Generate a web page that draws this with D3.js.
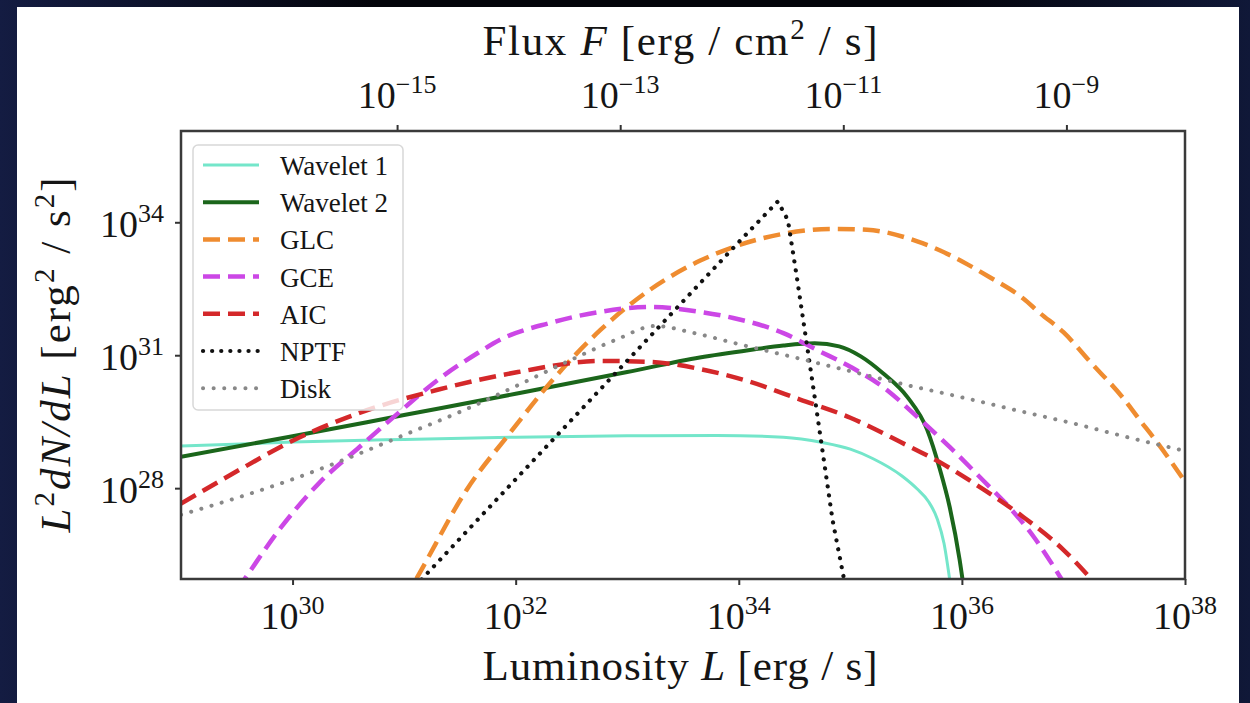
<!DOCTYPE html>
<html>
<head>
<meta charset="utf-8">
<script src="https://cdnjs.cloudflare.com/ajax/libs/d3/7.8.5/d3.min.js"></script>
<style>
  body { margin: 0; background: #000; }
  svg { display: block; }
  text { font-family: "Liberation Serif", "DejaVu Serif", serif; fill: #151515; }
</style>
</head>
<body>
<div id="chart"></div>
<script>
// curves: [log10 L, log10 L^2 dN/dL]
var wavelet1 = [[29.00,28.95],[30.00,29.04],[31.00,29.10],[32.00,29.15],[33.00,29.18],[33.80,29.19],[34.40,29.15],
    [34.75,29.03],[35.00,28.88],[35.20,28.67],[35.46,28.28],[35.60,27.98],[35.70,27.70],[35.78,27.30],[35.84,26.75],
    [35.89,25.95],[35.92,25.40]];
var wavelet2 = [[29.00,28.71],[30.00,29.17],[31.00,29.65],[32.00,30.13],[33.00,30.62],[33.65,30.95],[34.10,31.12],
    [34.40,31.22],[34.68,31.27],[34.90,31.20],[35.09,30.98],[35.29,30.60],[35.51,30.06],[35.69,29.31],[35.80,28.45],
    [35.89,27.58],[35.98,26.38],[36.03,25.50]];
var glc = [[31.00,25.47],[31.14,26.09],[31.56,27.96],[31.95,29.25],[32.31,30.38],[32.76,31.57],[33.20,32.47],
    [33.65,33.13],[33.95,33.44],[34.40,33.74],[34.84,33.85],[35.15,33.83],[35.60,33.57],[35.80,33.37],[36.05,33.05],
    [36.25,32.76],[36.55,32.28],[36.70,31.95],[36.91,31.52],[37.15,30.85],[37.44,30.05],[37.60,29.52],[37.73,29.10],
    [38.00,28.15]];
var gce = [[29.50,25.70],[29.57,25.95],[29.88,27.06],[30.24,28.12],[30.60,28.93],[30.95,29.70],[31.30,30.44],
    [31.66,31.05],[31.86,31.35],[32.31,31.73],[32.76,31.98],[33.20,32.09],[33.65,31.98],[33.95,31.84],[34.40,31.50],
    [34.70,31.12],[35.00,30.74],[35.29,30.29],[35.60,29.61],[35.89,28.93],[36.20,28.15],[36.45,27.50],[36.65,26.88],
    [36.80,26.32],[36.90,25.92],[37.00,25.50]];
var aic = [[29.00,27.65],[29.50,28.38],[30.00,29.07],[30.60,29.70],[31.30,30.22],[32.02,30.62],[32.76,30.87],
    [33.20,30.85],[33.65,30.69],[34.10,30.40],[34.55,30.00],[35.00,29.59],[35.45,29.04],[35.84,28.53],[36.20,27.96],
    [36.55,27.35],[36.91,26.61],[37.16,25.95],[37.25,25.70]];
var nptf = [[31.10,25.79],[32.37,29.19],[34.01,33.58],[34.35,34.47],[34.44,34.05],[34.52,32.77],[34.68,30.06],
    [34.84,27.29],[34.97,25.60]];
var disk = [[29.00,27.40],[29.50,27.78],[30.00,28.20],[30.50,28.68],[31.00,29.20],[31.50,29.72],[32.00,30.30],
    [32.50,30.90],[32.90,31.35],[33.25,31.66],[33.60,31.50],[34.00,31.25],[34.50,30.95],[35.00,30.64],[35.50,30.33],
    [36.00,30.05],[36.50,29.75],[37.00,29.46],[37.50,29.14],[38.00,28.84]];

var seriesNames = ["Wavelet 1", "Wavelet 2", "GLC", "GCE", "AIC", "NPTF", "Disk"];
var seriesData = [wavelet1, wavelet2, glc, gce, aic, nptf, disk];

var xTickExps = [30, 32, 34, 36, 38];
var yTickExps = [28, 31, 34];
var fluxTickExps = [-15, -13, -11, -9];
var xDomainExps = [29, 38];
var yDomainExps = [25.95, 36.06];
var fluxOffsetExp = 45.937; // log10(4 pi d^2) for d = 8.5 kpc

var styles = {
    "Wavelet 1": {color: "#74e6ca", width: 3, dash: null, cap: "butt"},
    "Wavelet 2": {color: "#1b661b", width: 4, dash: null, cap: "butt"},
    "GLC": {color: "#ef8c30", width: 4.5, dash: "17,8", cap: "butt"},
    "GCE": {color: "#cc47e6", width: 4.5, dash: "17,8", cap: "butt"},
    "AIC": {color: "#d4282a", width: 4.5, dash: "17,8", cap: "butt"},
    "NPTF": {color: "#111111", width: 4.2, dash: "0.1,9", cap: "round"},
    "Disk": {color: "#888888", width: 4, dash: "0.1,10.5", cap: "round"}
};

var margin = {top: 131, right: 65, bottom: 124, left: 181},
    width = 1250 - margin.left - margin.right,
    height = 703 - margin.top - margin.bottom;

var p10 = function(e) { return Math.pow(10, e); };

var x = d3.scaleLog().domain(xDomainExps.map(p10)).range([0, width]);
var y = d3.scaleLog().domain(yDomainExps.map(p10)).range([height, 0]);
var xf = d3.scaleLog().domain(xDomainExps.map(function(e) { return p10(e - fluxOffsetExp); })).range([0, width]);

var root = d3.select("#chart").append("svg")
    .attr("width", 1250)
    .attr("height", 703);

// dark slide background
var defs = root.append("defs");
var bg = defs.append("linearGradient").attr("id", "bg");
bg.append("stop").attr("offset", "0%").attr("stop-color", "#141c42");
bg.append("stop").attr("offset", "30%").attr("stop-color", "#03040a");
bg.append("stop").attr("offset", "75%").attr("stop-color", "#03040a");
bg.append("stop").attr("offset", "100%").attr("stop-color", "#101838");
defs.append("clipPath").attr("id", "plot-clip")
    .append("rect").attr("width", width).attr("height", height);

root.append("rect").attr("width", 1250).attr("height", 703).attr("fill", "url(#bg)");
root.append("rect").attr("x", 17).attr("y", 7).attr("width", 1222).attr("height", 700).attr("fill", "#fff");

var svg = root.append("g")
    .attr("transform", "translate(" + margin.left + "," + margin.top + ")");

// the curves
var line = d3.line()
    .x(function(d) { return x(p10(d[0])); })
    .y(function(d) { return y(p10(d[1])); });

var curves = svg.append("g").attr("clip-path", "url(#plot-clip)");
seriesNames.forEach(function(name, i) {
    var s = styles[name];
    line.curve(name == "NPTF" ? d3.curveLinear : d3.curveMonotoneX);
    curves.append("path")
        .attr("d", line(seriesData[i]))
        .attr("fill", "none")
        .attr("stroke", s.color)
        .attr("stroke-width", s.width)
        .attr("stroke-linecap", s.cap)
        .attr("stroke-dasharray", s.dash);
});

// superscript tick label: 10^e
function powLabel(sel, e) {
    sel.append("tspan").text("10");
    sel.append("tspan")
        .attr("dy", -15)
        .attr("font-size", 26)
        .text(e < 0 ? "\u2212" + (-e) : e);
}

// Add the X Axis (luminosity)
var gx = svg.append("g")
    .attr("transform", "translate(0," + height + ")")
    .call(d3.axisBottom(x).tickValues(xTickExps.map(p10)).tickSize(6).tickFormat(""));

xTickExps.forEach(function(e) {
    svg.append("text")
        .attr("x", x(p10(e)))
        .attr("y", height + 50)
        .attr("text-anchor", "middle")
        .attr("font-size", 38)
        .call(powLabel, e);
});

// Add the top axis (flux)
var gt = svg.append("g")
    .call(d3.axisTop(xf).tickValues(fluxTickExps.map(p10)).tickSize(6).tickFormat(""));

fluxTickExps.forEach(function(e) {
    svg.append("text")
        .attr("x", xf(p10(e)))
        .attr("y", -23)
        .attr("text-anchor", "middle")
        .attr("font-size", 38)
        .call(powLabel, e);
});

// Add the Y Axis
var gy = svg.append("g")
    .call(d3.axisLeft(y).tickValues(yTickExps.map(p10)).tickSize(6).tickFormat(""));

yTickExps.forEach(function(e) {
    svg.append("text")
        .attr("x", -17)
        .attr("y", y(p10(e)) + 15)
        .attr("text-anchor", "end")
        .attr("font-size", 38)
        .call(powLabel, e);
});

[gx, gt, gy].forEach(function(g) {
    g.select(".domain").remove();
    g.selectAll(".tick line").attr("stroke", "#333").attr("stroke-width", 2);
});

// frame
svg.append("rect")
    .attr("width", width)
    .attr("height", height)
    .attr("fill", "none")
    .attr("stroke", "#3a3a3a")
    .attr("stroke-width", 2.5);

// axis titles
var topTitle = svg.append("text")
    .attr("x", width / 2 - 3)
    .attr("y", -76)
    .attr("text-anchor", "middle")
    .attr("font-size", 43)
    .attr("textLength", 395)
    .attr("lengthAdjust", "spacing");
topTitle.append("tspan").text("Flux ");
topTitle.append("tspan").attr("font-style", "italic").text("F");
topTitle.append("tspan").text(" [erg / cm");
topTitle.append("tspan").attr("dy", -16).attr("font-size", 29).text("2");
topTitle.append("tspan").attr("dy", 16).text(" / s]");

var bottomTitle = svg.append("text")
    .attr("x", width / 2 - 3)
    .attr("y", height + 101)
    .attr("text-anchor", "middle")
    .attr("font-size", 43)
    .attr("textLength", 395)
    .attr("lengthAdjust", "spacing");
bottomTitle.append("tspan").text("Luminosity ");
bottomTitle.append("tspan").attr("font-style", "italic").text("L");
bottomTitle.append("tspan").text(" [erg / s]");

var leftTitle = svg.append("text")
    .attr("transform", "translate(-111," + (height / 2) + ") rotate(-90)")
    .attr("text-anchor", "middle")
    .attr("font-size", 43)
    .attr("textLength", 355)
    .attr("lengthAdjust", "spacing");
leftTitle.append("tspan").attr("font-style", "italic").text("L");
leftTitle.append("tspan").attr("dy", -16).attr("font-size", 29).text("2");
leftTitle.append("tspan").attr("dy", 16).attr("font-style", "italic").text("dN/dL");
leftTitle.append("tspan").text(" [erg");
leftTitle.append("tspan").attr("dy", -16).attr("font-size", 29).text("2");
leftTitle.append("tspan").attr("dy", 16).text(" / s");
leftTitle.append("tspan").attr("dy", -16).attr("font-size", 29).text("2");
leftTitle.append("tspan").attr("dy", 16).text("]");

// legend
var legend = svg.append("g").attr("transform", "translate(12,14)");
legend.append("rect")
    .attr("width", 210)
    .attr("height", 265)
    .attr("rx", 5)
    .attr("fill", "#fff")
    .attr("fill-opacity", 0.8)
    .attr("stroke", "#d8d8d8")
    .attr("stroke-width", 1.5);

seriesNames.forEach(function(name, i) {
    var s = styles[name];
    var ly = 20 + i * 37.2;
    legend.append("line")
        .attr("x1", 10).attr("x2", 66)
        .attr("y1", ly).attr("y2", ly)
        .attr("stroke", s.color)
        .attr("stroke-width", s.width)
        .attr("stroke-linecap", s.cap)
        .attr("stroke-dasharray", s.dash);
    legend.append("text")
        .attr("x", 87)
        .attr("y", ly + 10)
        .attr("font-size", 27)
        .text(name);
});
</script>
</body>
</html>
